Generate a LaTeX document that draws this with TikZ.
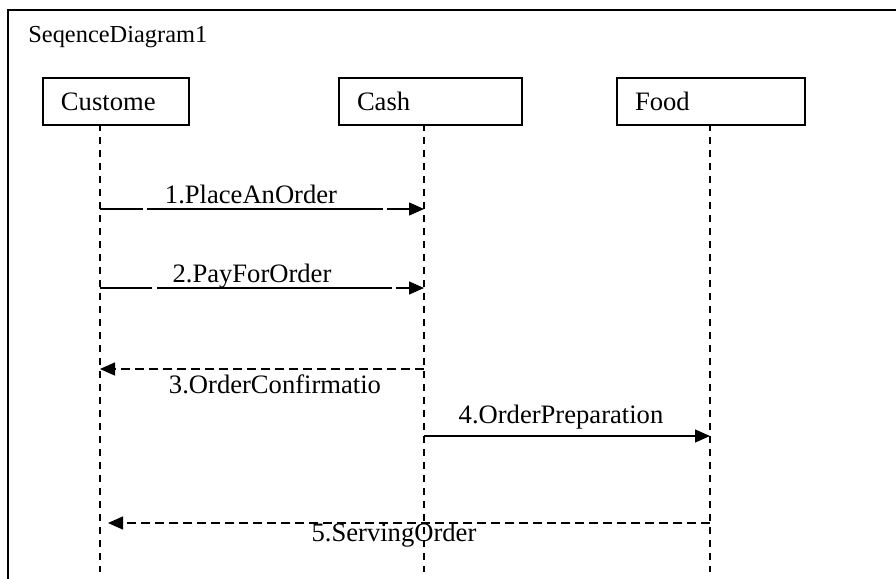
\documentclass[tikz,border=0pt]{standalone}
\usepackage{fontspec}
\setmainfont{Liberation Serif}
\usetikzlibrary{arrows.meta}

\begin{document}
\begin{tikzpicture}[x=0.5pt,y=-0.5pt,
			lifebox/.style={draw,line width=1pt,anchor=north west,minimum height=23.5pt,inner xsep=9pt,align=left,font=\fontsize{13.3}{16}\selectfont},
			lifeline/.style={line width=0.8pt,dash pattern=on 3.5pt off 3pt},
			call/.style={line width=0.7pt,-{Triangle[length=7.5pt,width=6.5pt]}},
			reply/.style={call,dash pattern=on 4.5pt off 2.5pt},
			msg/.style={anchor=base,inner sep=0pt,font=\fontsize{13.3}{16}\selectfont}]
			\useasboundingbox (0,0) rectangle (896,579);
			\draw[line width=1pt] (900,10) -- (8,10) -- (8,590);
			\node[anchor=base west,inner sep=0pt,font=\fontsize{12.2}{14}\selectfont] (title) at (28,42) {SeqenceDiagram1};
			\node[lifebox,text width=55pt] (cust) at (42,77) {Custome};
			\node[lifebox,text width=73.5pt] (cash) at (338,77) {Cash};
			\node[lifebox,text width=76pt] (food) at (616,77) {Food};
			\foreach \who/\x in {cust/100,cash/424,food/710}{
				\coordinate (\who top) at (\x,124);
				\coordinate (\who end) at (\x,572);
				\draw[lifeline] (\who top) -- (\who end);
			}
			\draw[call,dash pattern=on 21.5pt off 2pt on 118pt off 2pt on 100pt off 0pt] (custtop |- 0,209) -- (cashtop |- 0,209);
			\node[msg] (m1) at (251,203) {1.PlaceAnOrder};
			\draw[call,dash pattern=on 26pt off 2.5pt on 117.5pt off 2pt on 100pt off 0pt] (custtop |- 0,288) -- (cashtop |- 0,288);
			\node[msg] (m2) at (252,282) {2.PayForOrder};
			\draw[reply] (cashtop |- 0,369) -- (custtop |- 0,369);
			\node[msg] (m3) at (275,393) {3.OrderConfirmatio};
			\draw[call] (cashtop |- 0,436) -- (foodtop |- 0,436);
			\node[msg] (m4) at (561,423) {4.OrderPreparation};
			\draw[reply,shorten >=4pt] (foodtop |- 0,523) -- (custtop |- 0,523);
			\node[msg] (m5) at (394,541) {5.ServingOrder};
\end{tikzpicture}
\end{document}
